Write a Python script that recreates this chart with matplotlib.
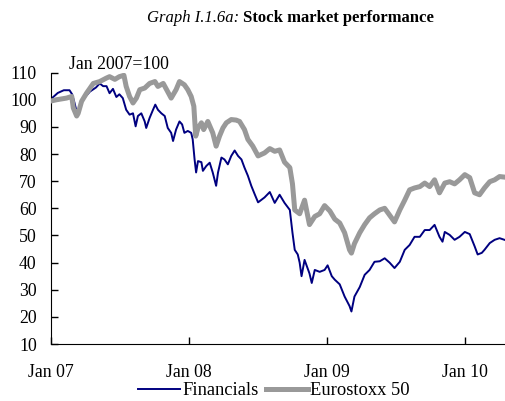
import matplotlib
matplotlib.use("Agg")
import matplotlib.pyplot as plt
import matplotlib.dates as mdates
import pandas as pd

plt.rcParams['font.family'] = ['Liberation Serif', 'DejaVu Serif']

# Financials (Jan 2007 = 100)
fin_dates = [
    "2007-01-01", "2007-01-08", "2007-01-20", "2007-02-05", "2007-02-20", "2007-02-27",
    "2007-03-05", "2007-03-12", "2007-03-18", "2007-03-27", "2007-04-15", "2007-05-01",
    "2007-05-11", "2007-05-20", "2007-05-29", "2007-06-06", "2007-06-15", "2007-06-24",
    "2007-07-02", "2007-07-11", "2007-07-20", "2007-07-29", "2007-08-07", "2007-08-14",
    "2007-08-20", "2007-08-29", "2007-09-07", "2007-09-11", "2007-09-20", "2007-09-29",
    "2007-10-05", "2007-10-12", "2007-10-21", "2007-10-30", "2007-11-07", "2007-11-16",
    "2007-11-21", "2007-11-29", "2007-12-08", "2007-12-15", "2007-12-21", "2007-12-30",
    "2008-01-08", "2008-01-12", "2008-01-17", "2008-01-21", "2008-01-26", "2008-02-04",
    "2008-02-08", "2008-02-17", "2008-02-26", "2008-03-05", "2008-03-14", "2008-03-19",
    "2008-03-28", "2008-04-05", "2008-04-14", "2008-04-23", "2008-05-02", "2008-05-11",
    "2008-05-20", "2008-05-28", "2008-06-06", "2008-06-15", "2008-06-24", "2008-07-03",
    "2008-07-20", "2008-08-03", "2008-08-16", "2008-08-29", "2008-09-11", "2008-09-25",
    "2008-10-02", "2008-10-08", "2008-10-16", "2008-10-21", "2008-10-26", "2008-11-03",
    "2008-11-16", "2008-11-22", "2008-11-30", "2008-12-13", "2008-12-26", "2009-01-03",
    "2009-01-14", "2009-01-22", "2009-02-04", "2009-02-17", "2009-03-02", "2009-03-07",
    "2009-03-15", "2009-03-29", "2009-04-11", "2009-04-24", "2009-05-07", "2009-05-21",
    "2009-06-03", "2009-06-16", "2009-06-29", "2009-07-13", "2009-07-26", "2009-08-08",
    "2009-08-21", "2009-09-04", "2009-09-17", "2009-09-30", "2009-10-13", "2009-10-26",
    "2009-11-03", "2009-11-09", "2009-11-22", "2009-12-05", "2009-12-18", "2010-01-01",
    "2010-01-14", "2010-01-27", "2010-02-04", "2010-02-15", "2010-02-22", "2010-03-08",
    "2010-03-21", "2010-04-03", "2010-04-16",
]
fin_values = [
    100, 101, 102.5, 103.5, 103.5, 102,
    99, 95, 97, 100, 103, 104.5,
    106, 105, 105, 102.4, 104, 101,
    102, 100.6, 96.3, 94.5, 95, 90.2,
    94, 95, 92, 89.6, 93.3, 96.3,
    98.2, 96.3, 95, 94, 89.6, 87.8,
    84.8, 89, 92, 90.9, 87.8, 88.5,
    87.8, 85.4, 78, 73.2, 77.4, 77,
    73.8, 75.6, 76.8, 73.2, 68.3, 73.2,
    78.7, 78, 76.2, 79.3, 81.3, 79.3,
    78, 75, 72, 68.3, 65.2, 62.2,
    64, 66, 62, 65, 62, 59.4,
    51, 44.7, 43, 40, 35, 41,
    36, 32.5, 37.3, 36.6, 37.3, 39,
    35, 33.7, 32, 27.5, 24, 22,
    27.5, 31, 35.5, 37.3, 40.3, 40.5,
    41.6, 40, 38, 40.3, 44.7, 46.5,
    49.5, 49.5, 52, 52, 53.9, 49.5,
    47.7, 51.3, 50.2, 48.4, 49.5, 51.3,
    50.5, 46, 43, 43.6, 44.7, 47.2,
    48.4, 49, 48.4,
]

# Eurostoxx 50 (Jan 2007 = 100)
eur_dates = [
    "2007-01-01", "2007-01-17", "2007-02-12", "2007-02-26", "2007-03-02", "2007-03-11",
    "2007-03-15", "2007-03-24", "2007-04-06", "2007-04-24", "2007-05-11", "2007-05-29",
    "2007-06-06", "2007-06-20", "2007-07-02", "2007-07-14", "2007-07-20", "2007-07-29",
    "2007-08-07", "2007-08-16", "2007-08-25", "2007-09-07", "2007-09-20", "2007-10-04",
    "2007-10-12", "2007-10-26", "2007-11-04", "2007-11-16", "2007-11-29", "2007-12-08",
    "2007-12-21", "2007-12-30", "2008-01-08", "2008-01-15", "2008-01-20", "2008-01-26",
    "2008-02-04", "2008-02-10", "2008-02-21", "2008-03-05", "2008-03-14", "2008-03-23",
    "2008-04-01", "2008-04-10", "2008-04-23", "2008-05-06", "2008-05-15", "2008-05-28",
    "2008-06-06", "2008-06-19", "2008-07-03", "2008-07-20", "2008-08-03", "2008-08-16",
    "2008-08-29", "2008-09-11", "2008-09-25", "2008-10-02", "2008-10-08", "2008-10-21",
    "2008-11-03", "2008-11-16", "2008-11-30", "2008-12-13", "2008-12-26", "2009-01-09",
    "2009-01-22", "2009-02-04", "2009-02-17", "2009-03-02", "2009-03-07", "2009-03-15",
    "2009-03-29", "2009-04-11", "2009-04-24", "2009-05-07", "2009-05-21", "2009-06-03",
    "2009-06-16", "2009-06-29", "2009-07-13", "2009-07-26", "2009-08-08", "2009-08-21",
    "2009-09-04", "2009-09-17", "2009-09-30", "2009-10-13", "2009-10-26", "2009-11-09",
    "2009-11-22", "2009-12-05", "2009-12-18", "2010-01-01", "2010-01-14", "2010-01-27",
    "2010-02-09", "2010-02-22", "2010-03-08", "2010-03-21", "2010-04-03", "2010-04-16",
]
eur_values = [
    99.5, 100, 100.6, 101.2, 97, 94,
    95, 99.4, 102.4, 106, 106.7, 108,
    108.5, 107.5, 108.5, 109, 104.9, 101.2,
    98.8, 100.6, 103.7, 104.3, 106, 106.7,
    104.9, 106, 103.7, 100.6, 103.7, 106.7,
    105.5, 103.7, 101.2, 97.6, 86.6, 89.6,
    91.5, 89, 92, 87.8, 82.9, 86.6,
    89.6, 91.5, 92.7, 92.5, 92, 89,
    85.4, 82.9, 79.3, 80.4, 82, 81,
    81.5, 77, 75, 69, 59.4, 58,
    63, 54, 57, 58, 61, 59,
    56, 54.6, 51, 44.7, 43.5, 47,
    51, 54, 56.5, 58, 59.4, 60,
    57.5, 55, 59.4, 63, 66.8, 67.5,
    68, 69.3, 68, 70.5, 65.7, 69.3,
    69.8, 69, 70.5, 72.4, 71.3, 65.7,
    65, 67.5, 69.8, 70.5, 71.7, 71.5,
]

fin = pd.Series(fin_values, index=pd.to_datetime(fin_dates))
eur = pd.Series(eur_values, index=pd.to_datetime(eur_dates))

fig = plt.figure(figsize=(5.06, 4.01), dpi=100)
ax = fig.add_axes([0.1, 0.142, 0.9, 0.677])

ax.plot(fin.index, fin.values, color='#000080', lw=1.4, label='Financials', zorder=2)
ax.plot(eur.index, eur.values, color='#999999', lw=3.6, label='Eurostoxx 50', zorder=3)

ax.set_xlim(pd.Timestamp("2007-01-01"), pd.Timestamp("2010-04-20"))
ax.set_ylim(10, 110)
ax.set_yticks(range(10, 111, 10))
ax.xaxis.set_major_locator(mdates.YearLocator())
ax.xaxis.set_major_formatter(mdates.DateFormatter('%b %y'))

for side in ('top', 'right'):
    ax.spines[side].set_visible(False)
ax.tick_params(axis='both', direction='in', length=5, width=1, labelsize=12.8)
ax.tick_params(axis='x', pad=14)
ax.tick_params(axis='y', pad=10)

ax.text(0.04, 1.0, 'Jan 2007=100', transform=ax.transAxes, fontsize=12.8,
        ha='left', va='bottom')

# title: italic label followed by bold text on one line
t1 = fig.text(0.29, 0.955, 'Graph I.1.6a: ', fontsize=12, style='italic',
              ha='left', va='center')
fig.canvas.draw()
ax.annotate('Stock market performance', xy=(1, 0.5), xycoords=t1, fontsize=12,
            weight='bold', ha='left', va='center', annotation_clip=False)

ax.legend(loc='upper center', bbox_to_anchor=(0.49, -0.14), ncol=2, frameon=False,
          fontsize=13.3, handlelength=2.3, handletextpad=0.1, columnspacing=0.4,
          borderaxespad=0, borderpad=0)

fig.savefig('out.png', dpi=100)
